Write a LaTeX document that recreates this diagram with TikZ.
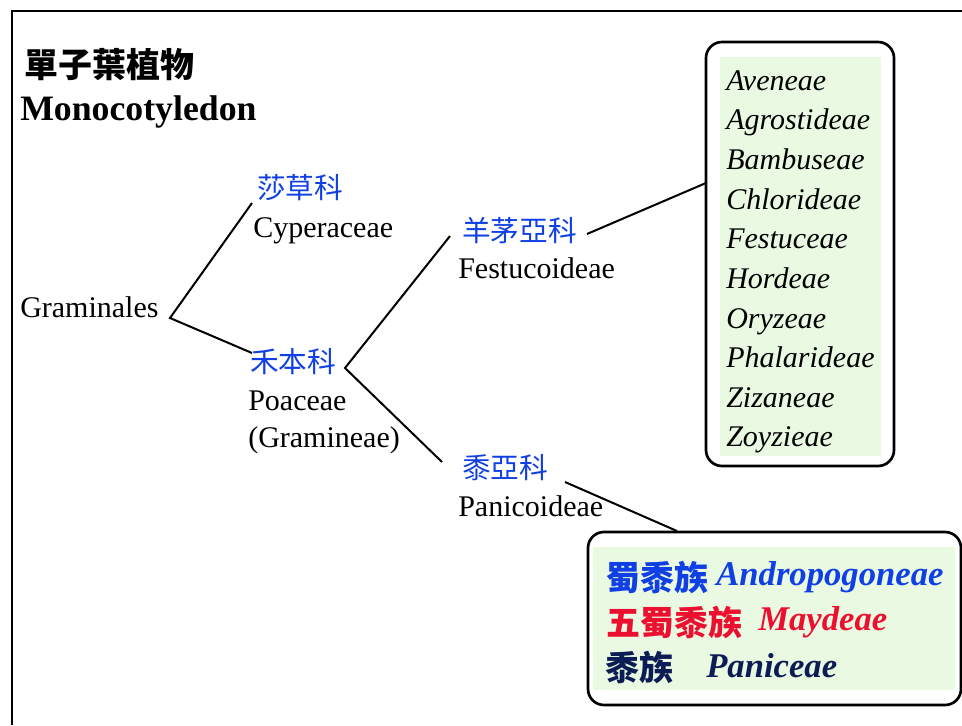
\documentclass[tikz,border=0pt]{standalone}
\usepackage{fontspec}
\setmainfont{Liberation Serif}
\newfontfamily\cjk{Noto Sans CJK TC}
\definecolor{cjkblue}{RGB}{16,64,228}
\definecolor{myred}{RGB}{236,16,48}
\definecolor{navy}{RGB}{12,28,84}
\definecolor{palegreen}{RGB}{234,250,226}
\tikzset{
  txt/.style={anchor=base west,inner sep=0pt,font=\fontsize{22.5}{26}\selectfont},
  cjklab/.style={anchor=west,inner sep=0pt,text=cjkblue,font=\cjk\fontsize{21.5}{24}\selectfont},
  tribe/.style={anchor=base west,inner sep=0pt,font=\fontsize{22.5}{26}\selectfont\itshape},
  big/.style={anchor=base west,inner sep=0pt,font=\fontsize{26}{30}\selectfont\bfseries\itshape},
  bigcjk/.style={anchor=west,inner sep=0pt,font=\cjk\fontsize{25.5}{30}\selectfont\bfseries},
  branch/.style={line width=1.5pt},
  roundbox/.style={draw,line width=2pt,rounded corners=12pt,fill=white},
}
\begin{document}
\begin{tikzpicture}[x=0.75pt,y=-0.75pt]
\useasboundingbox (0,0) rectangle (962,725);
% frame
\draw[line width=1.5pt] (12,725) -- (12,11) -- (962,11);
% title
\node[anchor=west,inner sep=0pt,font=\cjk\fontsize{25.5}{30}\selectfont\bfseries] (t1) at (24,65) {單子葉植物};
\node[anchor=base west,inner sep=0pt,font=\fontsize{26.8}{30}\selectfont\bfseries] (t2) at (20,120) {Monocotyledon};
% tree labels
\node[txt] (gram) at (20,317) {Graminales};
\node[cjklab] (cyc) at (257,188) {莎草科};
\node[txt] (cyp) at (253,237) {Cyperaceae};
\node[cjklab] (poc) at (250,362) {禾本科};
\node[txt] (poa) at (248,410) {Poaceae};
\node[txt] (grm) at (248,447) {(Gramineae)};
\node[cjklab] (fec) at (462,231) {羊茅亞科};
\node[txt] (fes) at (458,278) {Festucoideae};
\node[cjklab] (pac) at (462,468) {黍亞科};
\node[txt] (pan) at (458,516) {Panicoideae};
% junction coordinates
\coordinate (j1) at (170,318);
\coordinate (cypend) at (252,203);
\coordinate (poaend) at (252,353);
\coordinate (j2) at (345,368);
\coordinate (fesend) at (450,236);
\coordinate (panend) at (442,462);
\coordinate (f1) at (587,234);
\coordinate (p1) at (565,482);
% upper box
\draw[roundbox] (706,42) rectangle (894,466);
\fill[palegreen] (720,57) rectangle (881,456);
\coordinate (ubox) at (706,183);
\node[tribe] (a1) at (726,90) {Aveneae};
\node[tribe] (a2) at (726,129.6) {Agrostideae};
\node[tribe] (a3) at (726,169) {Bambuseae};
\node[tribe] (a4) at (726,209) {Chlorideae};
\node[tribe] (a5) at (726,248) {Festuceae};
\node[tribe] (a6) at (726,288) {Hordeae};
\node[tribe] (a7) at (726,328) {Oryzeae};
\node[tribe] (a8) at (726,367) {Phalarideae};
\node[tribe] (a9) at (726,407) {Zizaneae};
\node[tribe] (a10) at (726,446) {Zoyzieae};
% lower box
\draw[roundbox] (588,532) rectangle (961,705);
\fill[palegreen] (593,547) rectangle (955,690);
\coordinate (lbox) at (677,531);
\node[bigcjk,text=cjkblue] (b1c) at (606,577) {蜀黍族};
\node[big,text=cjkblue] (b1) at (716,585) {Andropogoneae};
\node[bigcjk,text=myred] (b2c) at (606,622) {五蜀黍族};
\node[big,text=myred] (b2) at (758,630) {Maydeae};
\node[bigcjk,text=navy] (b3c) at (605,667) {黍族};
\node[big,text=navy] (b3) at (706,677) {Paniceae};
% branches
\draw[branch] (cypend) -- (j1) -- (poaend);
\draw[branch] (fesend) -- (j2) -- (panend);
\draw[branch] (f1) -- (ubox);
\draw[branch] (p1) -- (lbox);
\end{tikzpicture}
\end{document}
